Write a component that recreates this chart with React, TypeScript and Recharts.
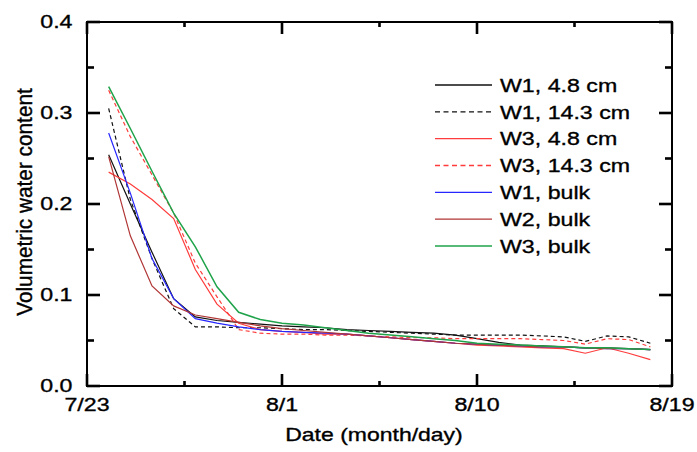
import React from 'react';
import { LineChart, Line, XAxis, YAxis, Legend, Label, ReferenceArea } from 'recharts';

// ---- data (day 0 = 7/23) ----
const days = [1, 2, 3, 4, 5, 6, 7, 8, 9, 10, 11, 12, 13, 14, 15, 16, 17, 18, 19, 20, 21, 22, 23, 24, 25, 26];
const w1_48 = [0.254, 0.2, 0.147, 0.096, 0.076, 0.072, 0.07, 0.068, 0.066, 0.065, 0.064, 0.062, 0.061, 0.06, 0.059, 0.058, 0.056, 0.052, 0.048, 0.045, 0.044, 0.043, 0.042, 0.042, 0.041, 0.04];
const w1_143 = [0.305, 0.205, 0.14, 0.085, 0.065, 0.065, 0.064, 0.064, 0.063, 0.062, 0.062, 0.061, 0.06, 0.059, 0.058, 0.057, 0.056, 0.056, 0.056, 0.056, 0.055, 0.054, 0.049, 0.055, 0.054, 0.047];
const w3_48 = [0.235, 0.222, 0.205, 0.184, 0.128, 0.09, 0.069, 0.062, 0.06, 0.059, 0.057, 0.057, 0.055, 0.053, 0.051, 0.049, 0.047, 0.045, 0.044, 0.043, 0.042, 0.041, 0.036, 0.042, 0.036, 0.029];
const w3_143 = [0.325, 0.274, 0.232, 0.19, 0.135, 0.098, 0.062, 0.058, 0.057, 0.057, 0.056, 0.056, 0.055, 0.054, 0.053, 0.053, 0.052, 0.052, 0.052, 0.052, 0.051, 0.05, 0.046, 0.052, 0.051, 0.043];
const w1_bulk = [0.278, 0.212, 0.14, 0.096, 0.074, 0.069, 0.065, 0.062, 0.06, 0.059, 0.058, 0.057, 0.055, 0.053, 0.051, 0.049, 0.047, 0.046, 0.045, 0.044, 0.043, 0.043, 0.042, 0.041, 0.041, 0.04];
const w2_bulk = [0.252, 0.165, 0.11, 0.088, 0.078, 0.074, 0.07, 0.066, 0.063, 0.061, 0.059, 0.057, 0.055, 0.053, 0.051, 0.049, 0.047, 0.046, 0.045, 0.044, 0.043, 0.043, 0.042, 0.041, 0.041, 0.04];
const w3_bulk = [0.329, 0.283, 0.236, 0.19, 0.153, 0.109, 0.081, 0.073, 0.069, 0.067, 0.064, 0.061, 0.058, 0.056, 0.054, 0.052, 0.05, 0.047, 0.046, 0.045, 0.044, 0.043, 0.042, 0.042, 0.041, 0.04];

const seriesNames = ['W1, 4.8 cm', 'W1, 14.3 cm', 'W3, 4.8 cm', 'W3, 14.3 cm', 'W1, bulk', 'W2, bulk', 'W3, bulk'];
const seriesKeys = ['w1_48', 'w1_143', 'w3_48', 'w3_143', 'w1_bulk', 'w2_bulk', 'w3_bulk'];
const seriesValues = [w1_48, w1_143, w3_48, w3_143, w1_bulk, w2_bulk, w3_bulk];

const xTickValues = [0, 4.5, 9, 13.5, 18, 22.5, 27];
const xTickLabels = ['7/23', '', '8/1', '', '8/10', '', '8/19'];
const yTickValues = [0, 0.05, 0.1, 0.15, 0.2, 0.25, 0.3, 0.35, 0.4];
const yTickLabels = ['0.0', '', '0.1', '', '0.2', '', '0.3', '', '0.4'];

const xTitle = 'Date (month/day)';
const yTitle = 'Volumetric water content';

// ---- styles ----
const colors = ['#111111', '#111111', '#ff3b3b', '#ff3b3b', '#2626ff', '#b03535', '#1fa34a'];
const dashes = [undefined, '4 3', undefined, '4 3', undefined, undefined, undefined];
const widths = [1.2, 1.2, 1.2, 1.2, 1.2, 1.2, 1.5];
const FONT = '"Liberation Sans", Arial, sans-serif';
const FS = 19;
const SX = 1.22;

const data = days.map((d, i) => {
  const row: Record<string, number> = { day: d };
  seriesKeys.forEach((k, j) => {
    row[k] = seriesValues[j][i];
  });
  return row;
});

const txt = (label: string, x: number, y: number, anchor: string) => (
  <text
    transform={`translate(${x},${y}) scale(${SX},1)`}
    textAnchor={anchor}
    fontFamily={FONT}
    fontSize={FS}
    fill="#000"
    stroke="#000"
    strokeWidth={0.35}
  >
    {label}
  </text>
);

const TICK_STROKE = '#000000';
const TICK_W = 2.6;

const BottomTick = (props: any) => {
  const x = Number(props.x);
  const y = Number(props.y);
  const i = xTickValues.indexOf(props.payload.value);
  const major = i % 2 === 0;
  const label = xTickLabels[i];
  return (
    <g>
      <rect x={x - TICK_W / 2} y={y - (major ? 12 : 5)} width={TICK_W} height={major ? 12 : 5} fill={TICK_STROKE} />
      {label ? txt(label, x, y + 25, 'middle') : null}
    </g>
  );
};

const TopTick = (props: any) => {
  const x = Number(props.x);
  const y = Number(props.y);
  const i = xTickValues.indexOf(props.payload.value);
  const major = i % 2 === 0;
  return <rect x={x - TICK_W / 2} y={y} width={TICK_W} height={major ? 12 : 5} fill={TICK_STROKE} />;
};

const LeftTick = (props: any) => {
  const x = Number(props.x);
  const y = Number(props.y);
  const i = yTickValues.findIndex((v) => Math.abs(v - props.payload.value) < 1e-9);
  const major = i % 2 === 0;
  const label = yTickLabels[i];
  return (
    <g>
      <rect x={x} y={y - TICK_W / 2} width={major ? 13 : 7} height={TICK_W} fill={TICK_STROKE} />
      {label ? txt(label, 72.5, y + 6, 'end') : null}
    </g>
  );
};

const RightTick = (props: any) => {
  const x = Number(props.x);
  const y = Number(props.y);
  const i = yTickValues.findIndex((v) => Math.abs(v - props.payload.value) < 1e-9);
  const major = i % 2 === 0;
  const len = major ? 13 : 7;
  return <rect x={x - len} y={y - TICK_W / 2} width={len} height={TICK_W} fill={TICK_STROKE} />;
};

const LegendContent = () => {
  const left = 420;
  const top = 65;
  return (
    <svg width={260} height={200} style={{ overflow: 'visible' }}>
      {seriesNames.map((name, i) => {
        const cy = 85 + i * 26.83 - top;
        return (
          <g key={name}>
            <line
              x1={435 - left}
              x2={492 - left}
              y1={cy}
              y2={cy}
              stroke={colors[i]}
              strokeWidth={1.3}
              strokeDasharray={dashes[i] ? '5 3.5' : undefined}
            />
            {txt(name, 500 - left, cy + 6.8, 'start')}
          </g>
        );
      })}
    </svg>
  );
};

export default function App() {
  return (
    <div style={{ position: 'absolute', left: 0, top: 0, background: '#fff' }}>
      <LineChart width={697} height={452} data={data} margin={{ top: 0, right: 0, bottom: 0, left: 0 }}>
        <XAxis
          dataKey="day"
          type="number"
          domain={[0, 27]}
          ticks={xTickValues}
          interval={0}
          height={66}
          tickSize={0}
          tickMargin={0}
          tickLine={false}
          axisLine={false}
          tick={BottomTick}
          allowDataOverflow
        >
          <Label
            content={() => (
              <text
                transform={`translate(374,441) scale(1.21,1)`}
                textAnchor="middle"
                fontFamily={FONT}
                fontSize={FS}
                fill="#000"
                stroke="#000"
                strokeWidth={0.35}
              >
                {xTitle}
              </text>
            )}
          />
        </XAxis>
        <XAxis
          xAxisId="top"
          orientation="top"
          dataKey="day"
          type="number"
          domain={[0, 27]}
          ticks={xTickValues}
          interval={0}
          height={22}
          tickSize={0}
          tickMargin={0}
          tickLine={false}
          axisLine={false}
          tick={TopTick}
          allowDataOverflow
        />
        <YAxis
          type="number"
          domain={[0, 0.4]}
          ticks={yTickValues}
          interval={0}
          width={87}
          tickSize={0}
          tickMargin={0}
          tickLine={false}
          axisLine={false}
          tick={LeftTick}
          allowDataOverflow
        >
          <Label
            content={() => (
              <text
                transform={`translate(32,202) rotate(-90) scale(1.04,1.1)`}
                textAnchor="middle"
                fontFamily={FONT}
                fontSize={20}
                fill="#000"
                stroke="#000"
                strokeWidth={0.35}
              >
                {yTitle}
              </text>
            )}
          />
        </YAxis>
        <YAxis
          yAxisId="right"
          orientation="right"
          type="number"
          domain={[0, 0.4]}
          ticks={yTickValues}
          interval={0}
          width={25}
          tickSize={0}
          tickMargin={0}
          tickLine={false}
          axisLine={false}
          tick={RightTick}
          allowDataOverflow
        />
        <ReferenceArea
          x1={0}
          x2={27}
          y1={0}
          y2={0.4}
          fill="none"
          fillOpacity={0}
          stroke="#000"
          strokeWidth={2}
          ifOverflow="visible"
        />
        <Legend
          layout="horizontal"
          verticalAlign="middle"
          align="center"
          wrapperStyle={{ left: 420, top: 65, width: 260, height: 200 }}
          content={LegendContent}
        />
        {seriesKeys.map((k, i) => (
          <Line
            key={k}
            dataKey={k}
            name={seriesNames[i]}
            type="linear"
            stroke={colors[i]}
            strokeWidth={widths[i]}
            strokeDasharray={dashes[i]}
            dot={false}
            activeDot={false}
            isAnimationActive={false}
          />
        ))}
      </LineChart>
    </div>
  );
}
